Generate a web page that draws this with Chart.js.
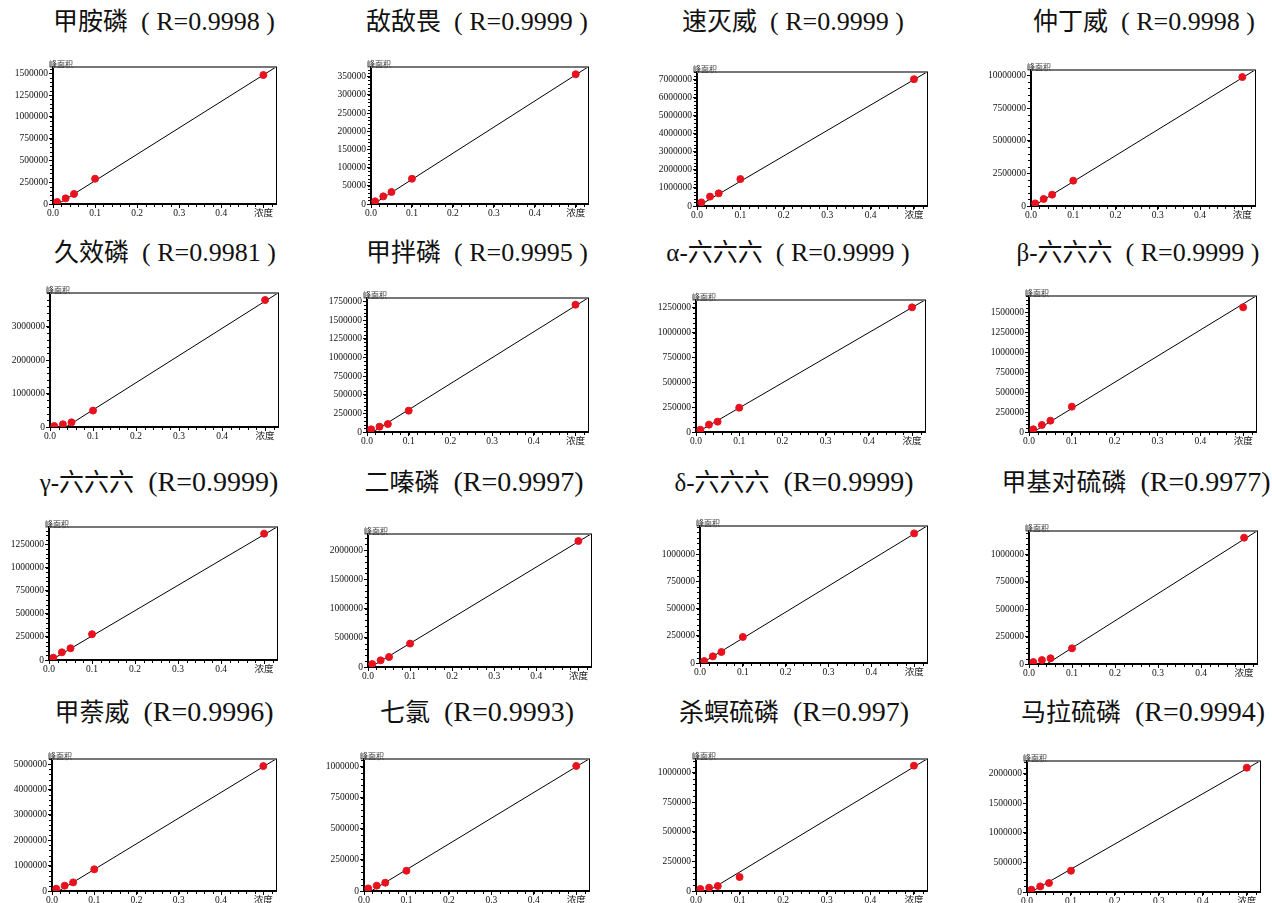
<!DOCTYPE html>
<html><head><meta charset="utf-8">
<script src="https://cdn.jsdelivr.net/npm/chart.js@4.4.0/dist/chart.umd.min.js"></script>
<style>
html,body{margin:0;padding:0;background:#fff;width:1272px;height:903px;overflow:hidden;position:relative}
.title{position:absolute;transform:translate(-50%,-50%);white-space:nowrap;color:#111;line-height:1}
.title .nm{font-family:"Liberation Serif","Noto Sans CJK SC",serif;font-size:25px}
.title .rv{font-family:"Liberation Serif",serif}
canvas{position:absolute}
</style></head><body>
<script>
// ---------- data ----------
const compounds = ['甲胺磷','敌敌畏','速灭威','仲丁威','久效磷','甲拌磷','α-六六六','β-六六六',
                   'γ-六六六','二嗪磷','δ-六六六','甲基对硫磷','甲萘威','七氯','杀螟硫磷','马拉硫磷'];
const rValues = ['0.9998','0.9999','0.9999','0.9998','0.9981','0.9995','0.9999','0.9999',
                 '0.9999','0.9997','0.9999','0.9977','0.9996','0.9993','0.997','0.9994'];
const concentrations = [0.01, 0.03, 0.05, 0.1, 0.5];
const peakAreas = [
  [23000, 65000, 115000, 290000, 1480000],
  [7300, 21000, 33000, 69500, 357000],
  [200000, 520000, 700000, 1490000, 7020000],
  [200000, 540000, 870000, 1940000, 9870000],
  [30000, 80000, 140000, 490000, 3790000],
  [36000, 72000, 107000, 286000, 1705000],
  [23000, 74000, 104000, 244000, 1253000],
  [33000, 88000, 142000, 318000, 1563000],
  [25000, 83000, 127000, 279000, 1366000],
  [51000, 114000, 171000, 400000, 2154000],
  [18000, 61000, 101000, 239000, 1190000],
  [18000, 36000, 52000, 143000, 1155000],
  [90000, 210000, 340000, 855000, 4930000],
  [21000, 43000, 67000, 163000, 1005000],
  [17000, 28000, 42000, 118000, 1059000],
  [39000, 95000, 151000, 359000, 2100000]
];
// fitted line: area at the right end of the x axis, and concentration where it crosses zero
const fitEndArea = [1572000, 377000, 7420000, 10410000, 4000000, 1795000, 1327000, 1705000,
                    1438000, 2274000, 1258000, 1216000, 5210000, 1061000, 1115000, 2213000];
const fitZeroConc = [0.012, 0.006, 0.003, 0.006, 0.037, 0.014, 0.004, 0.010,
                     0.005, 0.007, 0.005, 0.041, 0.016, 0.017, 0.028, 0.009];
const yTickValues = [
  [0, 250000, 500000, 750000, 1000000, 1250000, 1500000],
  [0, 50000, 100000, 150000, 200000, 250000, 300000, 350000],
  [0, 1000000, 2000000, 3000000, 4000000, 5000000, 6000000, 7000000],
  [0, 2500000, 5000000, 7500000, 10000000],
  [0, 1000000, 2000000, 3000000],
  [0, 250000, 500000, 750000, 1000000, 1250000, 1500000, 1750000],
  [0, 250000, 500000, 750000, 1000000, 1250000],
  [0, 250000, 500000, 750000, 1000000, 1250000, 1500000],
  [0, 250000, 500000, 750000, 1000000, 1250000],
  [0, 500000, 1000000, 1500000, 2000000],
  [0, 250000, 500000, 750000, 1000000],
  [0, 250000, 500000, 750000, 1000000],
  [0, 1000000, 2000000, 3000000, 4000000, 5000000],
  [0, 250000, 500000, 750000, 1000000],
  [0, 250000, 500000, 750000, 1000000],
  [0, 500000, 1000000, 1500000, 2000000]
];
const xTickValues = [0, 0.1, 0.2, 0.3, 0.4, 0.5];
const xTickLabels = ['0.0', '0.1', '0.2', '0.3', '0.4', '浓度'];
const xAxisMax = 0.53;
const yAxisTitle = '峰面积';

// ---------- layout (pixels): plot left, top, right, bottom, title centre x, title centre y ----------
const plotBoxes = [
  [53, 67, 276, 204, 164, 22], [371, 67, 588, 204, 477, 22], [697, 72, 927, 206, 793, 22], [1031, 70, 1255, 206, 1144, 22],
  [50, 293, 278, 427, 165, 253], [367, 298, 588, 432, 477, 253], [696, 300, 925, 432, 788, 253], [1029, 296, 1256, 432, 1138, 253],
  [49, 527, 277, 660, 159, 482], [368, 534, 591, 667, 474, 482], [700, 526, 927, 663, 794, 482], [1029, 531, 1257, 664, 1136, 482],
  [52, 759, 276, 891, 164, 712], [364, 759, 589, 891, 477, 712], [696, 759, 927, 891, 794, 712], [1027, 761, 1260, 892, 1143, 712]
];
const ML = 50, MT = 14, MR = 6, MB = 14;
const tickFont = {family: '"Liberation Serif","Noto Sans CJK SC",serif', size: 9.5};

const framePlugin = {
  id: 'frame',
  afterDraw(chart) {
    const {ctx, chartArea: a, scales: {x, y}} = chart;
    ctx.save();
    ctx.strokeStyle = '#000'; ctx.lineWidth = 1;
    const yt = y.ticks.map(t => t.value);
    const ys = (yt[1] - yt[0]) / 5;
    for (let k = 0; k * ys <= y.max + 1e-6; k++) {
      const p = Math.round(y.getPixelForValue(k * ys)) + 0.5;
      ctx.beginPath(); ctx.moveTo(a.left - 1, p); ctx.lineTo(a.left - 3, p); ctx.stroke();
    }
    for (let k = 0; k * 0.02 <= x.max + 1e-9; k++) {
      const p = Math.round(x.getPixelForValue(k * 0.02)) + 0.5;
      ctx.beginPath(); ctx.moveTo(p, a.bottom + 1); ctx.lineTo(p, a.bottom + 3); ctx.stroke();
    }
    ctx.strokeStyle = '#777'; ctx.lineWidth = 2;
    ctx.beginPath(); ctx.moveTo(a.left, a.top); ctx.lineTo(a.right + 1, a.top); ctx.stroke();
    ctx.strokeStyle = '#000'; ctx.lineWidth = 1;
    ctx.beginPath(); ctx.moveTo(a.right + 0.5, a.top); ctx.lineTo(a.right + 0.5, a.bottom); ctx.stroke();
    ctx.font = '8px "Noto Sans CJK SC"'; ctx.fillStyle = '#333';
    ctx.textAlign = 'left'; ctx.textBaseline = 'bottom';
    ctx.fillText(yAxisTitle, a.left - 4, a.top + 1);
    ctx.restore();
  }
};

compounds.forEach((name, i) => {
  const [L, T, R, B, cx, cy] = plotBoxes[i];
  const lowerRows = i >= 8;
  const t = document.createElement('div');
  t.className = 'title';
  t.style.left = cx + 'px'; t.style.top = cy + 'px';
  const nm = document.createElement('span'); nm.className = 'nm'; nm.textContent = name;
  const rv = document.createElement('span'); rv.className = 'rv';
  rv.style.fontSize = lowerRows ? '28px' : '26px';
  rv.textContent = lowerRows ? '\u2002(R=' + rValues[i] + ')' : '\u2002( R=' + rValues[i] + ' )';
  t.appendChild(nm); t.appendChild(rv);
  document.body.appendChild(t);

  const c = document.createElement('canvas');
  const W = R - L + ML + MR, H = B - T + MT + MB;
  c.width = W; c.height = H;
  c.style.left = (L - ML) + 'px'; c.style.top = (T - MT) + 'px';
  c.style.width = W + 'px'; c.style.height = H + 'px';
  document.body.appendChild(c);

  new Chart(c, {
    type: 'scatter',
    data: {
      datasets: [
        {
          data: concentrations.map((v, k) => ({x: v, y: peakAreas[i][k]})),
          backgroundColor: 'rgb(232,18,30)', borderColor: 'rgb(232,18,30)',
          pointRadius: 3.5, pointHoverRadius: 3.5, order: 0
        },
        {
          type: 'line',
          data: [{x: fitZeroConc[i], y: 0}, {x: xAxisMax, y: fitEndArea[i]}],
          borderColor: '#000', borderWidth: 1, pointRadius: 0, showLine: true, fill: false, order: 1
        }
      ]
    },
    options: {
      responsive: false, animation: false, devicePixelRatio: 1,
      layout: {padding: {top: MT, right: MR, left: 0, bottom: 0}},
      plugins: {legend: {display: false}, tooltip: {enabled: false}},
      scales: {
        x: {
          type: 'linear', min: 0, max: xAxisMax,
          afterBuildTicks: s => { s.ticks = xTickValues.map(v => ({value: v})); },
          afterFit: s => { s.height = MB; },
          ticks: {
            font: tickFont, color: '#111', padding: 0, maxRotation: 0, autoSkip: false,
            callback: v => xTickLabels[xTickValues.findIndex(t => Math.abs(t - v) < 1e-9)]
          },
          grid: {drawOnChartArea: false, drawTicks: true, tickLength: 4, tickColor: '#000', tickWidth: 1},
          border: {display: true, color: '#000', width: 2}
        },
        y: {
          type: 'linear', min: 0, max: fitEndArea[i],
          afterBuildTicks: s => { s.ticks = yTickValues[i].map(v => ({value: v})); },
          afterFit: s => { s.width = ML; },
          ticks: {font: tickFont, color: '#111', padding: 1, autoSkip: false, callback: v => String(v)},
          grid: {drawOnChartArea: false, drawTicks: true, tickLength: 4, tickColor: '#000', tickWidth: 1},
          border: {display: true, color: '#000', width: 2}
        }
      }
    },
    plugins: [framePlugin]
  });
});
</script>
</body></html>
